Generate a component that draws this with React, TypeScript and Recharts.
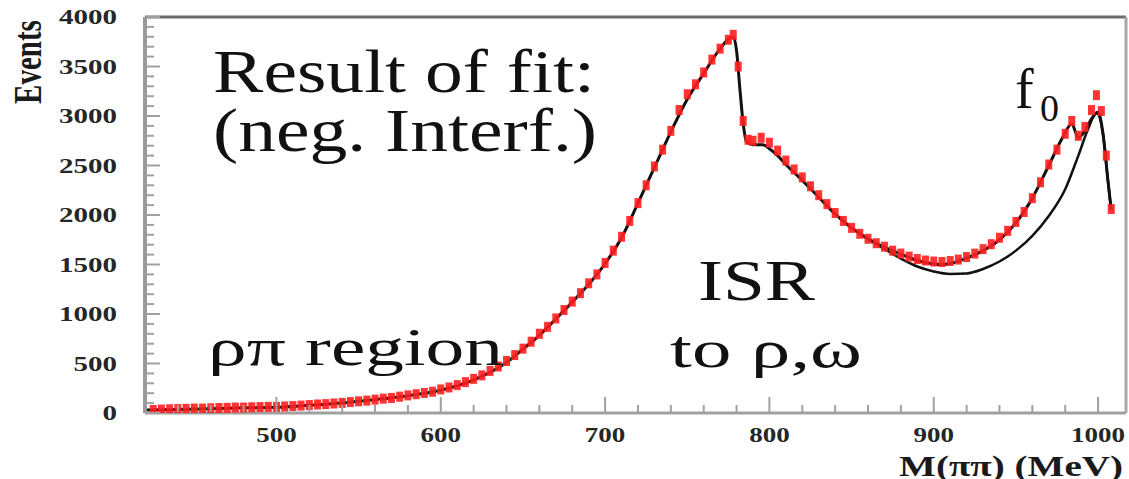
import { ComposedChart, Line, Scatter, XAxis, YAxis, ReferenceLine } from "recharts";

// measured spectrum (MeV, events per bin)
const dataMass = [
  425, 430, 435, 440, 445, 450, 455, 460, 465, 470, 475, 480, 485, 490, 495, 500,
  505, 510, 515, 520, 525, 530, 535, 540, 545, 550, 555, 560, 565, 570, 575, 580,
  585, 590, 595, 600, 605, 610, 615, 620, 625, 630, 635, 640, 645, 650, 655, 660,
  665, 670, 675, 680, 685, 690, 695, 700, 705, 710, 715, 720, 725, 730, 735, 740,
  745, 750, 755, 760, 765, 770, 775, 778, 781, 784, 787, 790, 795, 800, 805, 810,
  815, 820, 825, 830, 835, 840, 845, 850, 855, 860, 865, 870, 875, 880, 885, 890,
  895, 900, 905, 910, 915, 920, 925, 930, 935, 940, 945, 950, 955, 960, 965, 970,
  975, 980, 984, 988, 992, 996, 999, 1002, 1005, 1008,
];
const dataEvents = [
  30, 35, 38, 40, 42, 45, 45, 48, 50, 52, 55, 55, 58, 60, 62, 62,
  66, 70, 75, 80, 86, 90, 96, 102, 110, 118, 125, 135, 145, 152, 165, 178,
  190, 202, 215, 238, 258, 282, 312, 345, 380, 425, 470, 525, 585, 650, 720, 800,
  870, 955, 1040, 1125, 1210, 1310, 1400, 1515, 1640, 1780, 1940, 2120, 2300, 2490, 2660, 2850,
  3060, 3220, 3320, 3440, 3570, 3680, 3770, 3820, 3500, 2950, 2760, 2750, 2780, 2730, 2650, 2550,
  2460, 2380, 2290, 2200, 2110, 2020, 1940, 1870, 1810, 1760, 1715, 1680, 1640, 1610, 1580, 1555,
  1540, 1530, 1525, 1535, 1550, 1575, 1610, 1655, 1705, 1770, 1840, 1930, 2030, 2170, 2330, 2510,
  2660, 2820, 2950, 2800, 2890, 3060, 3210, 3050, 2600, 2060,
];

// fit including the f0 contribution
const fitMass = [
  420, 440, 460, 480, 500, 520, 540, 560, 580, 600, 620, 640, 650, 660, 670, 680,
  690, 700, 710, 720, 730, 740, 750, 760, 770, 776, 778, 780, 782, 784, 786, 790,
  796, 800, 805, 810, 820, 830, 840, 850, 860, 870, 880, 890, 900, 905, 910, 920,
  930, 940, 950, 960, 970, 978, 984, 988, 992, 996, 1000, 1003, 1006, 1008,
];
const fitEvents = [
  30, 36, 44, 52, 58, 78, 100, 135, 175, 230, 335, 510, 645, 785, 950, 1120,
  1300, 1510, 1770, 2120, 2480, 2840, 3170, 3430, 3680, 3790, 3800, 3660, 3280, 2930, 2740, 2710,
  2710, 2670, 2600, 2510, 2350, 2180, 2010, 1870, 1760, 1675, 1605, 1540, 1505, 1500, 1510, 1565,
  1640, 1750, 1920, 2170, 2500, 2770, 2920, 2780, 2850, 2970, 3040, 2820, 2350, 2050,
];

// fit without the f0 contribution
const noF0Mass = [840, 850, 860, 870, 880, 890, 900, 910, 920, 930, 940, 950, 960, 970, 980, 988, 994, 999, 1003, 1006, 1008];
const noF0Events = [2010, 1870, 1755, 1655, 1560, 1480, 1430, 1405, 1410, 1455, 1530, 1640, 1790, 1990, 2260, 2600, 2870, 3030, 2820, 2350, 2050];

const yMajorTicks = [0, 500, 1000, 1500, 2000, 2500, 3000, 3500, 4000];
const xMajorTicks = [500, 600, 700, 800, 900, 1000];
const yTicks = Array.from({ length: 41 }, (_, i) => i * 100);
const xTicks = Array.from({ length: 29 }, (_, i) => 440 + i * 20);

const measured = dataMass.map((m, i) => ({ m, v: dataEvents[i] }));
const fitWithF0 = fitMass.map((m, i) => ({ m, v: fitEvents[i] }));
const fitNoF0 = noF0Mass.map((m, i) => ({ m, v: noF0Events[i] }));

const W = 1129;
const H = 479;
const LEFT = 145;
const TOP = 17;
const BOTTOM = 413;
const RIGHT = 1126;

const serif = "'Liberation Serif', 'Times New Roman', serif";
const axisGray = "#a0a0a0";

const YTick = ({ y, payload }: any) => {
  const major = yMajorTicks.includes(payload.value);
  const label = String(payload.value);
  return (
    <g>
      <line x1={LEFT + 1} x2={LEFT + (major ? 15 : 9)} y1={y} y2={y} stroke={axisGray} strokeWidth={2} />
      {major && (
        <text
          x={117 - label.length * 14.5}
          y={y + 7}
          textLength={label.length * 14.5}
          lengthAdjust="spacingAndGlyphs"
          fontFamily={serif}
          fontWeight="bold"
          fontSize={21}
          fill="#262626"
        >
          {label}
        </text>
      )}
    </g>
  );
};

const XTick = ({ x, payload }: any) => {
  const major = xMajorTicks.includes(payload.value);
  const label = String(payload.value);
  const w = label.length * 13.5;
  return (
    <g>
      <line x1={x} x2={x} y1={BOTTOM - 1} y2={BOTTOM - (major ? 16 : 8)} stroke={axisGray} strokeWidth={2} />
      {major && (
        <text
          x={x - w / 2}
          y={442}
          textLength={w}
          lengthAdjust="spacingAndGlyphs"
          fontFamily={serif}
          fontWeight="bold"
          fontSize={21}
          fill="#262626"
        >
          {label}
        </text>
      )}
    </g>
  );
};

// each measured bin: a short red error bar
const DataPoint = ({ cx, cy }: any) => (
  <rect x={cx - 3.5} y={cy - 5} width={7} height={10} fill="#ff1f1f" fillOpacity={0.9} />
);

export default function App() {
  return (
    <div style={{ position: "absolute", left: 0, top: 0, width: W, height: H, background: "#fff" }}>
      <ComposedChart width={W} height={H} margin={{ top: TOP, right: W - RIGHT, bottom: 0, left: 0 }}>
        <XAxis
          type="number"
          dataKey="m"
          domain={[420, 1017]}
          allowDataOverflow
          ticks={xTicks}
          interval={0}
          tick={<XTick />}
          tickLine={false}
          axisLine={{ stroke: axisGray, strokeWidth: 3 }}
          height={H - BOTTOM}
        />
        <YAxis
          type="number"
          domain={[0, 4000]}
          allowDataOverflow
          ticks={yTicks}
          interval={0}
          tick={<YTick />}
          tickLine={false}
          axisLine={{ stroke: "#9a9a9a", strokeWidth: 4 }}
          width={LEFT}
        />
        <ReferenceLine y={4000} stroke="#6a6a6a" strokeWidth={3} />
        <ReferenceLine x={1017} stroke="#a8a8a8" strokeWidth={3} />
        <Scatter data={measured} dataKey="v" shape={<DataPoint />} isAnimationActive={false} />
        <Line data={fitNoF0} dataKey="v" type="monotone" stroke="#111" strokeWidth={2.5} dot={false} isAnimationActive={false} />
        <Line data={fitWithF0} dataKey="v" type="monotone" stroke="#111" strokeWidth={3} dot={false} isAnimationActive={false} />
      </ComposedChart>
      <svg width={W} height={H} style={{ position: "absolute", left: 0, top: 0, pointerEvents: "none" }}>
        <text
          transform="translate(41,62) scale(1.35,1) rotate(-90)"
          textAnchor="middle"
          fontFamily={serif}
          fontWeight="bold"
          fontSize={29}
          fill="#1a1a1a"
        >
          Events
        </text>
        <text x={899} y={476} textLength={224} lengthAdjust="spacingAndGlyphs" fontFamily={serif} fontWeight="bold" fontSize={29} fill="#1a1a1a">
          M(ππ) (MeV)
        </text>
        <g fontFamily={serif} fill="#111">
          <text x={213} y={92} fontSize={61} textLength={382} lengthAdjust="spacingAndGlyphs">Result of fit:</text>
          <text x={213} y={151} fontSize={61} textLength={384} lengthAdjust="spacingAndGlyphs">(neg. Interf.)</text>
          <text x={698} y={300} fontSize={57} textLength={117} lengthAdjust="spacingAndGlyphs">ISR</text>
          <text x={670} y={367} fontSize={53} textLength={192} lengthAdjust="spacingAndGlyphs">to ρ,ω</text>
          <text x={208} y={365} fontSize={52} textLength={295} lengthAdjust="spacingAndGlyphs">ρπ region</text>
          <text x={1015} y={108} fontSize={56}>f</text>
          <text x={1040} y={121} fontSize={38}>0</text>
        </g>
      </svg>
    </div>
  );
}
